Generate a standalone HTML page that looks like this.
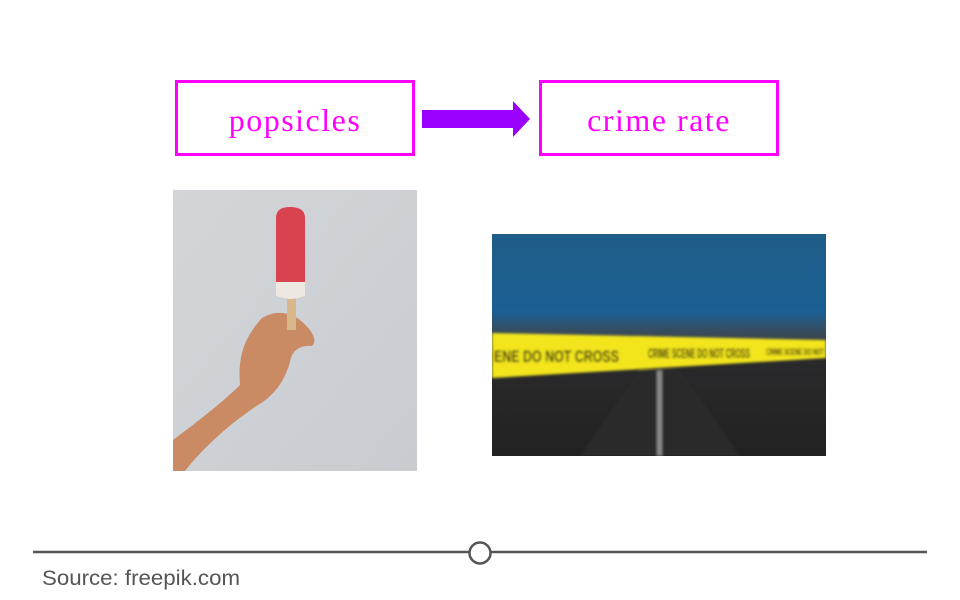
<!DOCTYPE html>
<html><head><style>
body{margin:0;width:960px;height:600px;background:#fff;position:relative;overflow:hidden;font-family:"Liberation Serif",serif}
.box{position:absolute;border:3px solid #ff00ff;box-sizing:border-box;color:#ff00ff;font-size:32px;text-align:center;line-height:74px;font-weight:300;letter-spacing:1.5px}
</style></head><body>
<div class="box" style="left:175px;top:80px;width:240px;height:76px">popsicles</div>
<div class="box" style="left:539px;top:80px;width:240px;height:76px">crime rate</div>
<svg style="position:absolute;left:0;top:0" width="960" height="600">
<polygon points="422,110 513,110 513,101 530,119 513,137 513,128 422,128" fill="#9900ff"/>
<defs>
<linearGradient id="pb" x1="0" y1="0" x2="1" y2="1"><stop offset="0" stop-color="#d3d5d8"/><stop offset="1" stop-color="#c8ccd1"/></linearGradient>
<linearGradient id="sky" x1="0" y1="0" x2="0" y2="1"><stop offset="0" stop-color="#1e5d88"/><stop offset="0.35" stop-color="#1b5f93"/><stop offset="0.45" stop-color="#3a4a58"/><stop offset="0.55" stop-color="#2a2a2c"/><stop offset="1" stop-color="#222"/></linearGradient>
<filter id="bl"><feGaussianBlur stdDeviation="1.2"/></filter>
<clipPath id="cp"><rect x="492" y="234" width="334" height="222"/></clipPath>
</defs>
<rect x="173" y="190" width="244" height="281" fill="url(#pb)"/>
<path d="M173,440 C200,420 225,400 240,385 C238,360 242,340 262,318 C275,310 290,312 300,320 C312,330 318,340 312,346 C300,345 292,350 290,362 C285,380 275,395 258,405 C235,420 205,445 185,471 L173,471 Z" fill="#c98a64"/>
<rect x="287" y="290" width="9" height="40" fill="#d8b88a"/>
<path d="M276,218 Q276,207 290,207 Q305,207 305,218 L305,296 Q290,302 276,296 Z" fill="#d9434f"/>
<path d="M276,282 L305,282 L305,296 Q290,302 276,296 Z" fill="#eee8e2"/>
<rect x="492" y="234" width="334" height="222" fill="url(#sky)"/>
<g filter="url(#bl)" clip-path="url(#cp)">
<polygon points="580,456 640,370 680,370 740,456" fill="#2b2b2b"/>
<rect x="657" y="370" width="5" height="86" fill="#888"/>
<polygon points="492,333 826,340 826,358 492,378" fill="#f2e51c"/>
<text x="494" y="362" font-family="Liberation Sans" font-weight="bold" font-size="17" fill="#111" textLength="125" lengthAdjust="spacingAndGlyphs">ENE DO NOT CROSS</text>
<text x="648" y="358" font-family="Liberation Sans" font-weight="bold" font-size="14" fill="#111" textLength="102" lengthAdjust="spacingAndGlyphs">CRIME SCENE DO NOT CROSS</text>
<text x="766" y="355" font-family="Liberation Sans" font-weight="bold" font-size="9" fill="#111" textLength="58" lengthAdjust="spacingAndGlyphs">CRIME SCENE DO NOT</text>
</g>
<line x1="33" y1="552" x2="469" y2="552" stroke="#555" stroke-width="2.5"/>
<line x1="491" y1="552" x2="927" y2="552" stroke="#555" stroke-width="2.5"/>
<circle cx="480" cy="553" r="10.5" fill="#fff" stroke="#555" stroke-width="2.5"/>
<text x="42" y="585" font-family="Liberation Sans" font-size="21" fill="#555" textLength="198" lengthAdjust="spacingAndGlyphs">Source: freepik.com</text>
</svg>
</body></html>
